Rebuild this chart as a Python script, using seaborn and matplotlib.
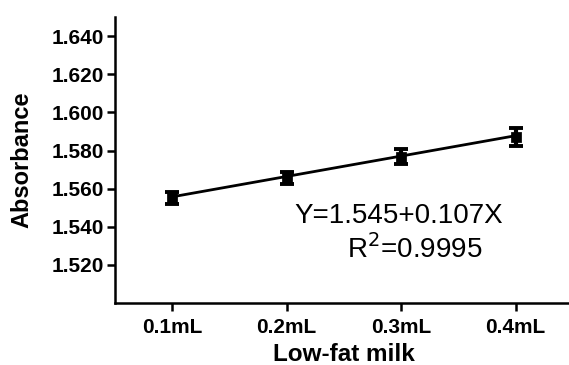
import matplotlib
matplotlib.use("Agg")
import matplotlib.pyplot as plt
import seaborn as sns
import numpy as np
import pandas as pd

# Data
volumes = [0.1, 0.2, 0.3, 0.4]
tick_labels = ["0.1mL", "0.2mL", "0.3mL", "0.4mL"]
absorbance = [1.5550, 1.5656, 1.5768, 1.5870]
errors = [0.0030, 0.0032, 0.0040, 0.0048]
intercept = 1.545
slope = 0.107
r_squared = "0.9995"

sns.set_style("ticks", {"axes.edgecolor": "black", "text.color": "black",
                        "axes.labelcolor": "black", "xtick.color": "black",
                        "ytick.color": "black"})
plt.rcParams["font.family"] = ["Liberation Sans", "DejaVu Sans"]

df = pd.DataFrame({"volume": volumes, "absorbance": absorbance, "err": errors})
fit = pd.DataFrame({"volume": volumes,
                    "fit": [intercept + slope * v for v in volumes]})

fig = plt.figure(figsize=(5.69, 3.65), dpi=100)
ax = fig.add_axes([0.202, 0.170, 0.805, 0.783])

# Fit line
sns.lineplot(data=fit, x="volume", y="fit", color="black", linewidth=2, ax=ax)

# Error bars + square markers
ax.errorbar(df["volume"], df["absorbance"], yerr=df["err"], fmt="none",
            ecolor="black", elinewidth=3, capsize=5, capthick=2.8, zorder=3)
sns.scatterplot(data=df, x="volume", y="absorbance", marker="s", s=45,
                color="black", edgecolor="black", ax=ax, zorder=4)

ax.set_xlim(0.05, 0.45)
ax.set_ylim(1.50, 1.65)
ax.set_xticks(volumes)
ax.set_xticklabels(tick_labels)
ax.set_yticks([1.52, 1.54, 1.56, 1.58, 1.60, 1.62, 1.64])
ax.set_yticklabels(["1.520", "1.540", "1.560", "1.580", "1.600", "1.620", "1.640"])

for lab in ax.get_xticklabels() + ax.get_yticklabels():
    lab.set_fontweight("bold")
    lab.set_fontsize(15)
    lab.set_color("black")

ax.set_xlabel("Low-fat milk", fontsize=17.5, fontweight="bold", labelpad=4,
              color="black")
ax.set_ylabel("Absorbance", fontsize=17, fontweight="bold", labelpad=13,
              color="black")

sns.despine(ax=ax)
ax.spines["left"].set_linewidth(1.8)
ax.spines["bottom"].set_linewidth(1.8)
ax.spines["left"].set_color("black")
ax.spines["bottom"].set_color("black")
ax.tick_params(axis="both", direction="out", width=1.8, length=6, color="black")
ax.tick_params(axis="y", pad=2)
ax.tick_params(axis="x", pad=5)

ax.text(0.207, 1.5421, f"Y={intercept}+{slope}X", fontsize=20, ha="left",
        va="baseline", color="black")
ax.text(0.2526, 1.5236, f"R$^2$={r_squared}", fontsize=20, ha="left",
        va="baseline", color="black")

fig.savefig("out.png", dpi=100)
